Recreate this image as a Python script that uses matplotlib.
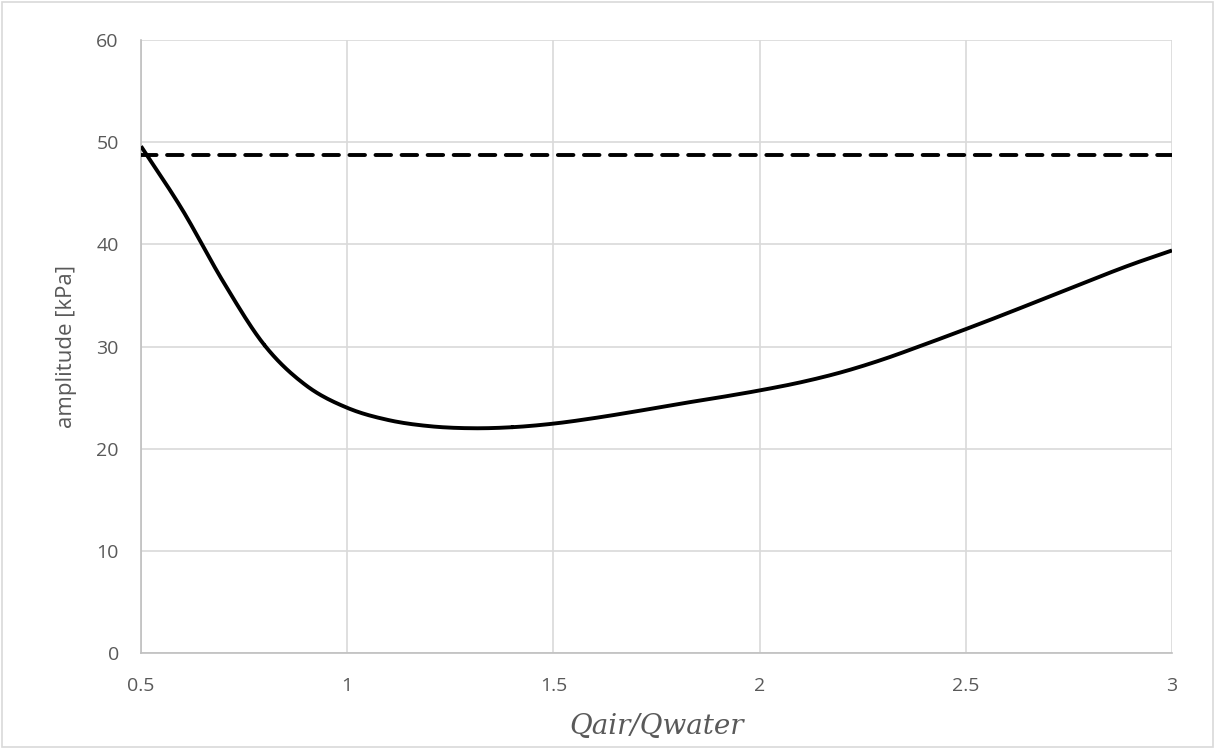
import matplotlib
matplotlib.use("Agg")
import matplotlib.pyplot as plt
import numpy as np
from matplotlib.patches import Rectangle

# values
ratio = [0.5, 0.6, 0.7, 0.8, 0.9, 1.0, 1.1, 1.2, 1.3, 1.4, 1.5, 1.6, 1.7,
         1.8, 1.9, 2.0, 2.1, 2.2, 2.3, 2.4, 2.5, 2.6, 2.7, 2.8, 2.9, 3.0]
amplitude = [49.6, 43.4, 36.3, 30.1, 26.2, 24.0, 22.8, 22.2, 22.0, 22.1, 22.45, 23.0, 23.65,
             24.35, 25.0, 25.7, 26.5, 27.5, 28.75, 30.2, 31.7, 33.25, 34.85, 36.45, 38.0, 39.4]
reference_level = 48.7
x_ticks = [0.5, 1, 1.5, 2, 2.5, 3]
x_tick_labels = ["0.5", "1", "1.5", "2", "2.5", "3"]
y_ticks = [0, 10, 20, 30, 40, 50, 60]


def smooth(xs, ys, n=20):
    # Catmull-Rom curve through the points, like a spreadsheet "smoothed line"
    xs = np.asarray(xs, float)
    ys = np.asarray(ys, float)
    px = np.concatenate([[2 * xs[0] - xs[1]], xs, [2 * xs[-1] - xs[-2]]])
    py = np.concatenate([[2 * ys[0] - ys[1]], ys, [2 * ys[-1] - ys[-2]]])
    t = np.linspace(0, 1, n)[:, None]
    outx, outy = [], []
    for i in range(1, len(px) - 2):
        for p, out in ((px, outx), (py, outy)):
            p0, p1, p2, p3 = p[i - 1], p[i], p[i + 1], p[i + 2]
            seg = 0.5 * (2 * p1 + (-p0 + p2) * t + (2 * p0 - 5 * p1 + 4 * p2 - p3) * t ** 2
                         + (-p0 + 3 * p1 - 3 * p2 + p3) * t ** 3)
            out.append(seg.ravel())
    return np.concatenate(outx), np.concatenate(outy)


fig = plt.figure(figsize=(12.16, 7.49), dpi=100)
ax = fig.add_axes([141 / 1216, 96 / 749, 1031 / 1216, 613 / 749])

fig.patches.append(Rectangle((2 / 1216, 2 / 749), 1211 / 1216, 745 / 749,
                             transform=fig.transFigure, fill=False,
                             edgecolor="#d9d9d9", linewidth=1.2))

sx, sy = smooth(ratio, amplitude)
ax.plot(sx, sy, color="black", linewidth=2.8, solid_capstyle="butt", zorder=3)
ax.axhline(reference_level, color="black", linewidth=2.8, linestyle=(0, (4, 2.7)),
           dash_capstyle="round", zorder=3)

ax.set_xlim(0.5, 3)
ax.set_ylim(0, 60)
ax.set_xticks(x_ticks)
ax.set_xticklabels(x_tick_labels)
ax.set_yticks(y_ticks)
ax.grid(True, color="#d9d9d9", linewidth=1.2)
ax.set_axisbelow(True)

for side in ("top", "right"):
    ax.spines[side].set_visible(False)
for side in ("left", "bottom"):
    ax.spines[side].set_color("#bfbfbf")
    ax.spines[side].set_linewidth(1.2)

ax.tick_params(length=0, labelsize=14, labelcolor="#595959")
ax.tick_params(axis="x", pad=17)
ax.tick_params(axis="y", pad=16)
for lab in ax.get_xticklabels() + ax.get_yticklabels():
    lab.set_family(["Open Sans", "DejaVu Sans"])

ax.set_ylabel("amplitude [kPa]", fontsize=16, color="#595959",
              family=["Open Sans", "DejaVu Sans"], labelpad=14)
ax.set_xlabel("Qair/Qwater", fontsize=20, color="#595959", style="italic",
              family=["DejaVu Serif"], labelpad=13)

fig.savefig("out.png", dpi=100)
